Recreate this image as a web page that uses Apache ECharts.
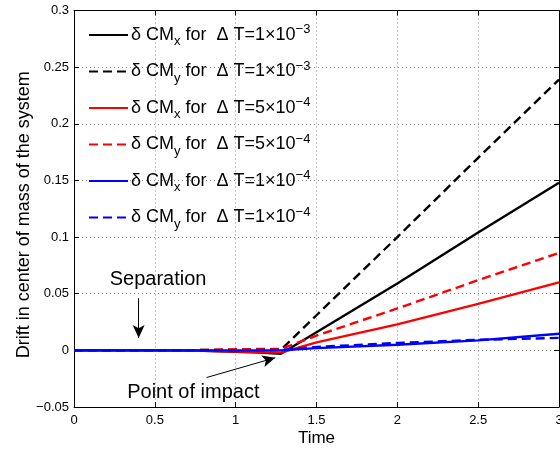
<!DOCTYPE html>
<html>
<head>
<meta charset="utf-8">
<script src="https://cdn.jsdelivr.net/npm/echarts@6/dist/echarts.min.js"></script>
<style>
  html, body { margin: 0; padding: 0; background: #fff; }
  #chart { width: 560px; height: 452px; }
</style>
</head>
<body>
<div id="chart"></div>
<script>
// sample times
var times = [0, 0.5, 0.8, 1.0, 1.15, 1.28, 1.5, 2.0, 2.5, 3.0];

// drift values
var cmx1e3 = [0, 0, -0.0005, -0.0012, -0.002, -0.003, 0.016, 0.059, 0.104, 0.148];
var cmy1e3 = [0, 0, 0.0003, 0.0005, 0.0005, 0.0005, 0.031, 0.100, 0.170, 0.239];
var cmx5e4 = [0, 0, -0.0004, -0.001, -0.0016, -0.002, 0.007, 0.023, 0.041, 0.060];
var cmy5e4 = [0, 0, 0.0003, 0.001, 0.0012, 0.0012, 0.013, 0.037, 0.062, 0.086];
var cmx1e4 = [0, 0, 0, 0, 0, 0, 0.002, 0.005, 0.0088, 0.0147];
var cmy1e4 = [0, 0, 0, 0.0002, 0.0003, 0.0003, 0.003, 0.0065, 0.0093, 0.011];

var names = ['cmx1e3', 'cmy1e3', 'cmx5e4', 'cmy5e4', 'cmx1e4', 'cmy1e4'];
var legendText = [
  'δ CM{sub|x} for  Δ T=1×10{sup|−3}',
  'δ CM{sub|y} for  Δ T=1×10{sup|−3}',
  'δ CM{sub|x} for  Δ T=5×10{sup|−4}',
  'δ CM{sub|y} for  Δ T=5×10{sup|−4}',
  'δ CM{sub|x} for  Δ T=1×10{sup|−4}',
  'δ CM{sub|y} for  Δ T=1×10{sup|−4}'
];
var colors = ['#000000', '#000000', '#ff0000', '#ff0000', '#0000ff', '#0000ff'];
var dashed = [false, true, false, true, false, true];
var values = [cmx1e3, cmy1e3, cmx5e4, cmy5e4, cmx1e4, cmy1e4];

var FONT = '"Liberation Sans", Arial, Helvetica, sans-serif';

function pairs(ys) {
  return times.map(function (t, i) { return [t, ys[i]]; });
}

var gridLine = { show: true, lineStyle: { color: '#8a8a8a', type: [1, 3], width: 1 } };
var boxLine = { show: true, onZero: false, lineStyle: { color: '#000', width: 1 } };
var tick = { show: true, inside: true, length: 5, lineStyle: { color: '#000' } };

var series = names.map(function (n, i) {
  return {
    name: n,
    type: 'line',
    data: pairs(values[i]),
    showSymbol: false,
    symbol: 'none',
    lineStyle: { color: colors[i], width: 2.4, type: dashed[i] ? [9, 5] : 'solid' },
    itemStyle: { color: colors[i] },
    z: 3 + i
  };
});

// arrows and notes
series[0].markLine = {
  silent: true,
  symbol: ['none', 'arrow'],
  symbolSize: [9, 13],
  label: { show: false },
  lineStyle: { color: '#000', width: 1, type: 'solid' },
  data: [
    [{ coord: [0.40, 0.046] }, { coord: [0.40, 0.011] }],
    [{ coord: [0.82, -0.024] }, { coord: [1.245, -0.0065] }]
  ]
};
series[0].markPoint = {
  silent: true,
  symbol: 'circle',
  symbolSize: 1,
  itemStyle: { color: 'rgba(0,0,0,0)' },
  label: { show: true, position: 'inside', formatter: '{b}', color: '#000', fontSize: 20, fontFamily: FONT },
  data: [
    { name: 'Separation', coord: [0.52, 0.063] },
    { name: 'Point of impact', coord: [0.738, -0.037] }
  ]
};

var chart = echarts.init(document.getElementById('chart'));
chart.setOption({
  animation: false,
  backgroundColor: '#fff',
  grid: { left: 74, right: 1, top: 10.5, bottom: 45, outerBoundsMode: 'none', containLabel: false },
  legend: {
    orient: 'vertical',
    left: 88,
    top: 23,
    padding: 0,
    itemWidth: 39,
    itemHeight: 14,
    itemGap: 11.5,
    data: names,
    itemStyle: { opacity: 0 },
    formatter: function (name) { return legendText[names.indexOf(name)]; },
    textStyle: {
      color: '#000',
      fontSize: 18,
      fontFamily: FONT,
      padding: [0, 0, 0, -2],
      rich: {
        sub: { fontSize: 13, fontFamily: FONT, color: '#000', padding: [13, 0, 0, 0] },
        sup: { fontSize: 13, fontFamily: FONT, color: '#000', padding: [0, 0, 11, 0] }
      }
    }
  },
  xAxis: [{
    type: 'value',
    min: 0, max: 3, interval: 0.5,
    name: 'Time',
    nameLocation: 'middle',
    nameGap: 23,
    nameMoveOverlap: false,
    nameTextStyle: { color: '#000', fontSize: 17, fontFamily: FONT },
    axisLine: boxLine,
    axisTick: tick,
    axisLabel: { color: '#000', fontSize: 13, fontFamily: FONT, margin: 7 },
    splitLine: gridLine
  }, {
    type: 'value',
    position: 'top',
    min: 0, max: 3, interval: 0.5,
    axisLine: boxLine,
    axisTick: tick,
    axisLabel: { show: false },
    splitLine: { show: false }
  }],
  yAxis: [{
    type: 'value',
    min: -0.05, max: 0.3, interval: 0.05,
    name: 'Drift in center of mass of the system',
    nameLocation: 'middle',
    nameGap: 41,
    nameMoveOverlap: false,
    nameTextStyle: { color: '#000', fontSize: 18, fontFamily: FONT, padding: [0, 12, 0, 0] },
    axisLine: boxLine,
    axisTick: tick,
    axisLabel: {
      color: '#000', fontSize: 13, fontFamily: FONT, margin: 5,
      formatter: function (v) { return String(+v.toFixed(2)).replace('-', '−'); }
    },
    splitLine: gridLine
  }, {
    type: 'value',
    position: 'right',
    min: -0.05, max: 0.3, interval: 0.05,
    axisLine: boxLine,
    axisTick: tick,
    axisLabel: { show: false },
    splitLine: { show: false }
  }],
  series: series
});
</script>
</body>
</html>
